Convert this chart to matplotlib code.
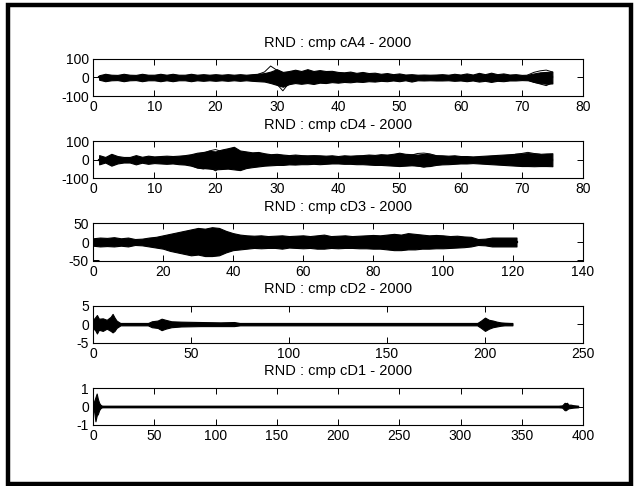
import numpy as np
import matplotlib
matplotlib.use("Agg")
import matplotlib.pyplot as plt
from matplotlib.patches import Rectangle

plt.rcParams["font.family"] = ["Liberation Sans", "DejaVu Sans"]
plt.rcParams["axes.unicode_minus"] = False

# ─── Data: coefficient envelopes ─────────────────────────────────────────────
titles = ["RND : cmp cA4 - 2000", "RND : cmp cD4 - 2000", "RND : cmp cD3 - 2000",
          "RND : cmp cD2 - 2000", "RND : cmp cD1 - 2000"]
xlims = [80, 80, 140, 250, 400]
xsteps = [10, 10, 20, 50, 50]
ylims = [100, 100, 50, 5, 1]

# cA4 (index 1..75)
ca4_x = list(range(1, 76))
ca4_up = [12, 20, 15, 14, 20, 15, 14, 20, 15, 15, 20, 15, 20, 15, 15, 20, 15, 18, 15, 18,
          15, 18, 15, 18, 15, 18, 20, 24, 32, 45, 30, 35, 42, 35, 45, 35, 40, 35, 36, 30,
          28, 32, 25, 30, 24, 26, 20, 24, 18, 22, 16, 18, 15, 16, 15, 16, 18, 15, 20, 16,
          22, 16, 25, 18, 26, 18, 22, 16, 18, 14, 15, 22, 28, 30, 32]
ca4_lo = [-12, -20, -15, -14, -20, -15, -14, -20, -15, -15, -20, -15, -20, -15, -15, -20, -15, -18, -15, -18,
          -15, -18, -15, -18, -15, -18, -20, -22, -30, -40, -50, -36, -30, -34, -30, -35, -28, -30, -25, -28,
          -24, -26, -22, -24, -20, -22, -18, -20, -16, -20, -15, -22, -15, -16, -15, -16, -16, -15, -18, -16,
          -20, -16, -22, -18, -24, -18, -20, -16, -16, -14, -15, -24, -30, -34, -32]
ca4_traces = [([27, 28, 29, 30, 31], [18, 30, 62, 40, 25]),
              ([29, 30, 31, 32], [-25, -35, -72, -30]),
              ([71, 72, 73, 74, 75], [14, 28, 36, 40, 30]),
              ([71, 72, 73, 74, 75], [-14, -26, -35, -44, -28])]

# cD4 (index 1..75)
cd4_x = list(range(1, 76))
cd4_up = [25, 15, 32, 20, 15, 15, 25, 16, 22, 18, 20, 22, 20, 22, 25, 30, 38, 42, 48, 45,
          55, 62, 70, 50, 45, 40, 42, 35, 30, 32, 28, 25, 28, 25, 24, 25, 24, 22, 24, 20,
          24, 22, 24, 25, 28, 26, 30, 28, 32, 38, 32, 30, 28, 32, 30, 25, 24, 22, 24, 20,
          20, 18, 20, 22, 24, 26, 28, 30, 32, 34, 36, 34, 32, 34, 35]
cd4_lo = [-25, -15, -32, -20, -15, -15, -25, -16, -22, -18, -20, -22, -20, -24, -26, -32, -42, -45, -48, -52,
          -50, -48, -52, -56, -45, -40, -36, -32, -30, -28, -28, -25, -26, -24, -24, -22, -24, -22, -20, -20,
          -22, -22, -24, -24, -26, -28, -28, -30, -32, -34, -32, -30, -32, -36, -34, -28, -25, -24, -22, -20,
          -20, -18, -20, -22, -24, -26, -28, -30, -32, -34, -34, -35, -34, -34, -35]
cd4_traces = [([18, 19, 20, 21, 22], [35, 48, 55, 45, 40]),
              ([16, 17, 18, 19, 20, 21], [-30, -44, -50, -40, -60, -35]),
              ([52, 53, 54, 55, 56], [25, 34, 36, 32, 22]),
              ([52, 53, 54, 55, 56], [-28, -34, -40, -32, -25]),
              ([69, 70, 71, 72, 73], [30, 34, 40, 34, 30])]

# cD3 (index 0..121)
cd3_x = [0, 2, 4, 6, 8, 10, 12, 14, 16, 18, 20, 22, 24, 26, 28, 30, 32, 34, 36, 38,
         40, 42, 44, 46, 48, 50, 52, 54, 56, 58, 60, 62, 64, 66, 68, 70, 72, 74, 76, 78,
         80, 82, 84, 86, 88, 90, 92, 94, 96, 98, 100, 102, 104, 106, 108, 110, 112, 114,
         116, 118, 121]
cd3_up = [10, 12, 11, 13, 10, 12, 8, 9, 12, 14, 18, 22, 26, 30, 34, 38, 36, 40, 38, 30,
          24, 20, 18, 17, 18, 16, 17, 18, 16, 17, 18, 16, 18, 20, 16, 17, 18, 16, 17, 18,
          19, 18, 20, 22, 20, 24, 22, 20, 18, 19, 18, 16, 17, 15, 14, 8, 9, 12, 12, 12, 12]
cd3_lo = [-10, -12, -11, -12, -10, -12, -8, -9, -12, -15, -18, -24, -28, -32, -36, -34, -38, -38, -36, -28,
          -22, -20, -18, -16, -17, -16, -16, -18, -15, -16, -17, -16, -18, -18, -16, -17, -16, -16, -17, -17,
          -18, -18, -20, -22, -22, -20, -20, -18, -18, -17, -17, -16, -15, -14, -12, -8, -9, -12, -12, -12, -12]

# cD2 (index 0..214)
cd2_x = [0, 1, 2, 3, 5, 7, 9, 10, 11, 12, 14, 28, 30, 33, 35, 37, 40, 45, 55, 65, 72,
         75, 150, 196, 198, 200, 202, 204, 206, 208, 210, 214]
cd2_up = [1.2, 1.8, 2.5, 1.5, 1.6, 1.2, 2.0, 2.8, 1.8, 1.0, 0.3, 0.3, 0.8, 1.0, 1.5, 1.2,
          0.8, 0.7, 0.6, 0.5, 0.6, 0.3, 0.3, 0.3, 1.0, 1.8, 1.2, 1.0, 0.7, 0.5, 0.4, 0.3]
cd2_lo = [-1.2, -1.5, -2.5, -1.5, -1.8, -1.2, -1.8, -2.2, -1.8, -1.0, -0.3, -0.3, -0.8, -1.0,
          -1.6, -1.2, -0.8, -0.6, -0.5, -0.5, -0.5, -0.3, -0.3, -0.3, -1.0, -1.8, -1.2, -0.8,
          -0.6, -0.4, -0.3, -0.3]

# cD1 (index 0..396)
cd1_x = [0, 1, 2, 3, 4, 5, 6, 7, 8, 380, 383, 385, 386, 387, 388, 390, 392, 396]
cd1_up = [0.1, 0.3, 0.5, 0.7, 0.4, 0.2, 0.1, 0.05, 0.04, 0.04, 0.06, 0.2, 0.18, 0.2, 0.1, 0.1, 0.07, 0.04]
cd1_lo = [-0.1, -0.3, -0.8, -0.5, -0.4, -0.2, -0.1, -0.05, -0.04, -0.04, -0.06, -0.2, -0.2, -0.15, -0.1, -0.08, -0.06, -0.04]

series = [(ca4_x, ca4_up, ca4_lo, ca4_traces),
          (cd4_x, cd4_up, cd4_lo, cd4_traces),
          (cd3_x, cd3_up, cd3_lo, []),
          (cd2_x, cd2_up, cd2_lo, []),
          (cd1_x, cd1_up, cd1_lo, [])]

# ─── Figure ──────────────────────────────────────────────────────────────────
W, H = 637, 486
fig = plt.figure(figsize=(W / 100, H / 100), dpi=100)

# thick frame around the whole figure
fig.patches.append(Rectangle((8 / W, 1 - 484 / H), 623 / W, 479 / H,
                             transform=fig.transFigure, fill=False,
                             edgecolor="black", linewidth=3.2))

left, width, ax_h, step, top0 = 93, 490, 37, 82.25, 59
for i, (x, up, lo, traces) in enumerate(series):
    top = top0 + i * step
    ax = fig.add_axes([left / W, 1 - (top + ax_h) / H, width / W, ax_h / H])
    ax.fill_between(x, lo, up, color="black", linewidth=0.8, edgecolor="black")
    for tx, ty in traces:
        ax.plot(tx, ty, color="black", linewidth=0.7)
    ax.plot([x[0], x[-1]], [0, 0], color="black", linewidth=1.6)
    ax.set_xlim(0, xlims[i])
    ax.set_ylim(-ylims[i], ylims[i])
    ax.set_xticks(np.arange(0, xlims[i] + 1, xsteps[i]))
    ax.set_yticks([-ylims[i], 0, ylims[i]])
    ax.tick_params(direction="in", top=True, right=True, length=4, width=0.7,
                   labelsize=10, pad=3)
    for s in ax.spines.values():
        s.set_linewidth(0.8)
    ax.set_title(titles[i], fontsize=10.5, pad=9)

fig.savefig("out.png", dpi=100, facecolor="white")
